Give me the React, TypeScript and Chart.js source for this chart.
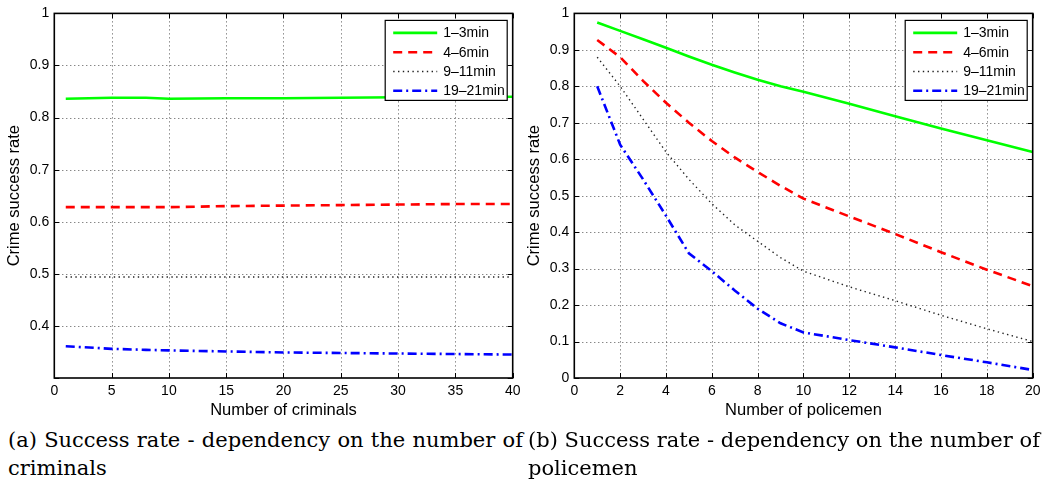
import React, { useEffect, useRef } from 'react';
import { Chart, registerables } from 'chart.js';

Chart.register(...registerables);

// ---------- data ----------
const seriesLabels = ['1–3min', '4–6min', '9–11min', '19–21min'];
const seriesColors = ['#00ff00', '#ff0000', '#222222', '#0000ff'];
const seriesWidths = [2.6, 2.6, 1.4, 2.6];
const seriesDashes: number[][] = [[], [9, 6], [1.4, 3.4], [9, 4, 2, 4]];

// (a) number of criminals
const criminalsX = [1, 5, 8, 10, 15, 20, 25, 30, 35, 40];
const crim13 = [0.836, 0.838, 0.838, 0.836, 0.837, 0.837, 0.838, 0.839, 0.839, 0.840];
const crim46 = [0.628, 0.628, 0.628, 0.628, 0.630, 0.631, 0.632, 0.633, 0.634, 0.634];
const crim911 = [0.494, 0.494, 0.494, 0.494, 0.494, 0.494, 0.494, 0.494, 0.494, 0.494];
const crim1921 = [0.361, 0.356, 0.354, 0.353, 0.351, 0.349, 0.348, 0.347, 0.346, 0.345];

// (b) number of policemen
const policemenX = [1, 2, 3, 4, 5, 6, 7, 8, 9, 10, 12, 14, 16, 18, 20];
const pol13 = [0.975, 0.952, 0.929, 0.906, 0.882, 0.859, 0.838, 0.818, 0.800, 0.785, 0.752, 0.718, 0.684, 0.652, 0.620];
const pol46 = [0.927, 0.880, 0.815, 0.755, 0.700, 0.650, 0.605, 0.565, 0.527, 0.492, 0.443, 0.395, 0.345, 0.297, 0.252];
const pol911 = [0.880, 0.800, 0.710, 0.620, 0.545, 0.478, 0.420, 0.375, 0.330, 0.293, 0.250, 0.212, 0.172, 0.135, 0.100];
const pol1921 = [0.800, 0.640, 0.545, 0.445, 0.342, 0.293, 0.240, 0.190, 0.150, 0.125, 0.104, 0.084, 0.063, 0.043, 0.022];

const yTitle = 'Crime success rate';
const xTitleA = 'Number of criminals';
const xTitleB = 'Number of policemen';
const captionA = ['(a) Success rate - dependency on the number of', 'criminals'];
const captionB = ['(b) Success rate - dependency on the number of', 'policemen'];

const SANS = '"Liberation Sans", Arial, Helvetica, sans-serif';
const SERIF = '"DejaVu Serif", "Liberation Serif", serif';

// ---------- MATLAB-like decorations ----------
const matlabPlugin = {
  id: 'matlabDecor',
  beforeDatasetsDraw(chart: any) {
    const { ctx, chartArea: a, scales } = chart;
    const x = scales.x, y = scales.y;
    ctx.save();
    ctx.strokeStyle = '#555';
    ctx.lineWidth = 1;
    ctx.setLineDash([1, 3]);
    x.ticks.forEach((t: any) => {
      const px = Math.round(x.getPixelForValue(t.value)) + 0.5;
      if (px > a.left + 2 && px < a.right - 2) {
        ctx.beginPath(); ctx.moveTo(px, a.top); ctx.lineTo(px, a.bottom); ctx.stroke();
      }
    });
    y.ticks.forEach((t: any) => {
      const py = Math.round(y.getPixelForValue(t.value)) + 0.5;
      if (py > a.top + 2 && py < a.bottom - 2) {
        ctx.beginPath(); ctx.moveTo(a.left, py); ctx.lineTo(a.right, py); ctx.stroke();
      }
    });
    ctx.restore();
  },
  afterDatasetsDraw(chart: any) {
    const { ctx, chartArea: a, scales } = chart;
    const x = scales.x, y = scales.y;
    ctx.save();
    ctx.setLineDash([]);
    ctx.strokeStyle = '#000';
    ctx.lineWidth = 1;
    const tl = 5;
    x.ticks.forEach((t: any) => {
      const px = Math.round(x.getPixelForValue(t.value)) + 0.5;
      ctx.beginPath(); ctx.moveTo(px, a.bottom); ctx.lineTo(px, a.bottom - tl); ctx.stroke();
      ctx.beginPath(); ctx.moveTo(px, a.top); ctx.lineTo(px, a.top + tl); ctx.stroke();
    });
    y.ticks.forEach((t: any) => {
      const py = Math.round(y.getPixelForValue(t.value)) + 0.5;
      ctx.beginPath(); ctx.moveTo(a.left, py); ctx.lineTo(a.left + tl, py); ctx.stroke();
      ctx.beginPath(); ctx.moveTo(a.right, py); ctx.lineTo(a.right - tl, py); ctx.stroke();
    });
    // box
    ctx.lineWidth = 1.6;
    ctx.strokeRect(a.left, a.top, a.right - a.left, a.bottom - a.top);

    // legend
    const bw = 122, bh = 80;
    const bx = a.right - 5.5 - bw;
    const by = a.top + 7;
    ctx.fillStyle = '#fff';
    ctx.fillRect(bx, by, bw, bh);
    ctx.lineWidth = 1.2;
    ctx.strokeStyle = '#000';
    ctx.strokeRect(bx, by, bw, bh);
    chart.data.datasets.forEach((ds: any, i: number) => {
      const ry = by + 12.5 + i * 19.3;
      ctx.save();
      ctx.strokeStyle = ds.borderColor;
      ctx.lineWidth = ds.borderWidth;
      ctx.setLineDash(ds.borderDash || []);
      ctx.beginPath(); ctx.moveTo(bx + 8, ry); ctx.lineTo(bx + 52, ry); ctx.stroke();
      ctx.restore();
      ctx.fillStyle = '#000';
      ctx.font = `14px ${SANS}`;
      ctx.textBaseline = 'middle';
      ctx.textAlign = 'left';
      ctx.fillText(ds.label, bx + 58, ry + 0.5);
    });
    ctx.restore();
  },
};

type PanelProps = {
  left: number;
  width: number;
  padRight: number;
  xs: number[];
  series: number[][];
  xMin: number; xMax: number; xStep: number;
  yMin: number; yMax: number;
  hideBelow: number;
  xTitle: string;
};

function Panel(p: PanelProps) {
  const ref = useRef<HTMLCanvasElement>(null);
  useEffect(() => {
    const chart = new Chart(ref.current as HTMLCanvasElement, {
      type: 'line',
      data: {
        datasets: p.series.map((s, i) => ({
          label: seriesLabels[i],
          data: p.xs.map((xv, j) => ({ x: xv, y: s[j] })),
          borderColor: seriesColors[i],
          backgroundColor: seriesColors[i],
          borderWidth: seriesWidths[i],
          borderDash: seriesDashes[i],
          pointRadius: 0,
          tension: 0,
          fill: false,
        })),
      },
      options: {
        responsive: false,
        animation: false,
        events: [],
        layout: { padding: { left: 0, right: p.padRight, top: 12, bottom: 0 } },
        plugins: { legend: { display: false }, tooltip: { enabled: false } },
        scales: {
          x: {
            type: 'linear',
            min: p.xMin,
            max: p.xMax,
            grid: { display: false, drawTicks: false },
            border: { display: false },
            ticks: {
              stepSize: p.xStep,
              color: '#000',
              font: { family: SANS, size: 14 },
              padding: 5,
              maxRotation: 0,
              autoSkip: false,
            },
            title: {
              display: true,
              text: p.xTitle,
              color: '#000',
              font: { family: SANS, size: 16.5 },
              padding: { top: 0, bottom: 5 },
            },
            afterFit: (s: any) => { s.height = 47; },
          },
          y: {
            type: 'linear',
            min: p.yMin,
            max: p.yMax,
            grid: { display: false, drawTicks: false },
            border: { display: false },
            ticks: {
              stepSize: 0.1,
              color: '#000',
              font: { family: SANS, size: 14 },
              padding: 5,
              autoSkip: false,
              callback: (v: any) => {
                const n = Number(v);
                if (n < p.hideBelow) return '';
                if (Math.abs(n) < 1e-9) return '0';
                if (Math.abs(n - 1) < 1e-9) return '1';
                return n.toFixed(1);
              },
            },
            title: {
              display: true,
              text: yTitle,
              color: '#000',
              font: { family: SANS, size: 16.5 },
              padding: { top: 4.5, bottom: 0 },
            },
            afterFit: (s: any) => { s.width = 54.3; },
          },
        },
      },
      plugins: [matlabPlugin],
    } as any);
    return () => chart.destroy();
  }, []);
  return (
    <canvas
      ref={ref}
      width={p.width}
      height={425}
      style={{ position: 'absolute', left: p.left, top: 0, width: p.width, height: 425 }}
    />
  );
}

function Caption({ left, width, lines }: { left: number; width: number; lines: string[] }) {
  const base: React.CSSProperties = {
    fontFamily: SERIF,
    fontSize: 21,
    lineHeight: '27.5px',
    color: '#000',
    whiteSpace: 'nowrap',
  };
  return (
    <div style={{ position: 'absolute', left, top: 427, width }}>
      <div style={{ ...base, textAlign: 'justify', textAlignLast: 'justify' as any, whiteSpace: 'normal' }}>{lines[0]}</div>
      <div style={base}>{lines[1]}</div>
    </div>
  );
}

export default function App() {
  return (
    <div style={{ position: 'absolute', left: 0, top: 0, width: 1051, height: 487, background: '#fff', overflow: 'hidden' }}>
      <Panel
        left={0}
        width={531}
        padRight={18.3}
        xs={criminalsX}
        series={[crim13, crim46, crim911, crim1921]}
        xMin={0} xMax={40} xStep={5}
        yMin={0.3} yMax={1}
        hideBelow={0.35}
        xTitle={xTitleA}
      />
      <Panel
        left={520}
        width={531}
        padRight={18.3}
        xs={policemenX}
        series={[pol13, pol46, pol911, pol1921]}
        xMin={0} xMax={20} xStep={2}
        yMin={0} yMax={1}
        hideBelow={-1}
        xTitle={xTitleB}
      />
      <Caption left={8} width={515} lines={captionA} />
      <Caption left={528} width={512} lines={captionB} />
    </div>
  );
}
